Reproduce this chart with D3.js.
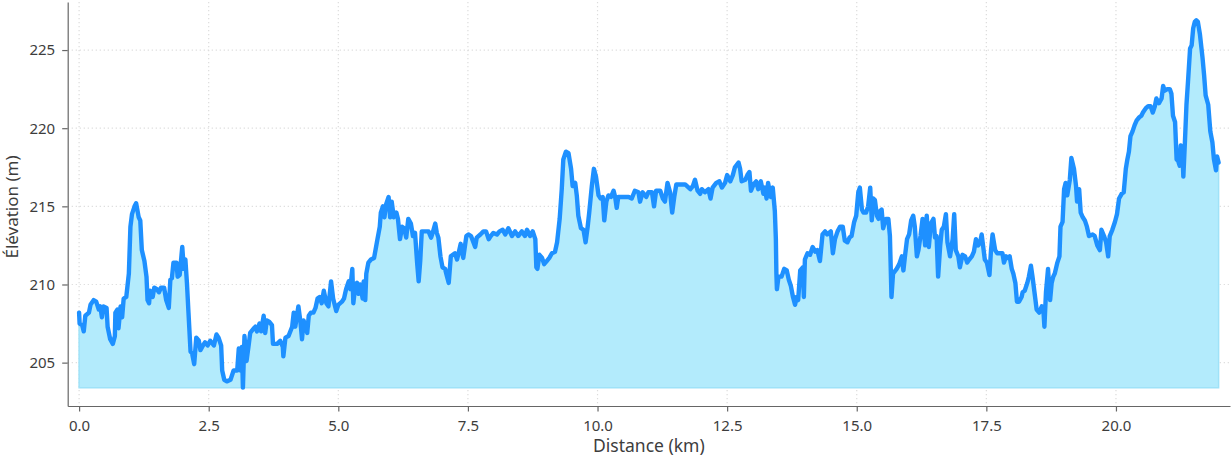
<!DOCTYPE html>
<html>
<head>
<meta charset="utf-8">
<script src="https://cdn.jsdelivr.net/npm/d3@7"></script>
<style>
  html, body { margin: 0; padding: 0; background: #fff; }
  svg { display: block; }
  text { font-family: "Noto Sans", "DejaVu Sans", sans-serif; }
</style>
</head>
<body>
<div id="chart"></div>
<script>
// elevation profile
const distanceKm = [
  0.00,0.01,0.06,0.09,0.12,0.19,0.22,0.28,0.33,0.38,0.41,0.44,0.47,0.53,0.55,0.60,0.65,0.69,0.70,0.74,
  0.76,0.80,0.83,0.86,0.91,0.96,0.99,1.02,1.07,1.10,1.15,1.18,1.21,1.26,1.30,1.32,1.35,1.37,1.42,1.45,
  1.50,1.54,1.58,1.64,1.68,1.73,1.76,1.79,1.82,1.88,1.90,1.94,1.99,2.02,2.05,2.08,2.11,2.15,2.18,2.22,
  2.26,2.31,2.34,2.39,2.43,2.48,2.53,2.60,2.65,2.69,2.74,2.76,2.80,2.85,2.92,2.98,3.05,3.08,3.11,3.14,
  3.16,3.19,3.23,3.27,3.30,3.37,3.40,3.43,3.48,3.51,3.56,3.59,3.62,3.67,3.72,3.74,3.82,3.88,3.93,3.94,
  3.98,4.04,4.11,4.14,4.17,4.23,4.27,4.30,4.33,4.40,4.43,4.47,4.52,4.56,4.60,4.64,4.68,4.72,4.77,4.81,
  4.86,4.90,4.96,5.00,5.07,5.11,5.15,5.20,5.23,5.27,5.29,5.33,5.36,5.39,5.42,5.47,5.49,5.52,5.54,5.58,
  5.63,5.69,5.75,5.80,5.82,5.86,5.89,5.92,5.97,6.00,6.03,6.07,6.12,6.15,6.19,6.23,6.27,6.31,6.35,6.40,
  6.44,6.48,6.52,6.55,6.58,6.61,6.68,6.74,6.79,6.82,6.87,6.90,6.93,6.97,7.01,7.06,7.09,7.13,7.17,7.25,
  7.29,7.32,7.36,7.41,7.47,7.51,7.56,7.64,7.67,7.74,7.80,7.85,7.90,7.94,7.99,8.06,8.11,8.17,8.22,8.28,
  8.35,8.41,8.47,8.54,8.60,8.64,8.70,8.75,8.80,8.82,8.84,8.88,8.93,8.97,9.02,9.07,9.12,9.18,9.22,9.27,
  9.31,9.34,9.39,9.44,9.49,9.52,9.57,9.60,9.63,9.68,9.73,9.77,9.81,9.84,9.89,9.93,9.97,10.02,10.06,10.10,
  10.13,10.17,10.21,10.26,10.31,10.34,10.37,10.40,10.50,10.60,10.66,10.72,10.79,10.82,10.87,10.94,10.98,11.05,11.09,11.13,
  11.21,11.26,11.30,11.35,11.40,11.44,11.48,11.52,11.59,11.69,11.79,11.84,11.88,11.93,11.98,12.01,12.07,12.14,12.18,12.22,
  12.29,12.35,12.40,12.46,12.50,12.56,12.61,12.65,12.72,12.75,12.78,12.85,12.89,12.93,12.96,13.01,13.06,13.10,13.15,13.20,
  13.23,13.26,13.29,13.34,13.38,13.42,13.44,13.45,13.46,13.49,13.55,13.60,13.65,13.69,13.73,13.77,13.81,13.84,13.87,13.91,
  13.96,13.98,14.00,14.05,14.10,14.15,14.20,14.24,14.29,14.34,14.39,14.43,14.50,14.54,14.58,14.63,14.68,14.73,14.77,14.82,
  14.86,14.90,14.95,14.99,15.03,15.06,15.10,15.13,15.18,15.22,15.26,15.29,15.32,15.35,15.39,15.42,15.45,15.48,15.51,15.56,
  15.61,15.64,15.66,15.67,15.70,15.77,15.82,15.87,15.90,15.93,15.97,16.01,16.05,16.09,16.12,16.16,16.19,16.23,16.27,16.32,
  16.35,16.39,16.43,16.48,16.51,16.54,16.57,16.61,16.64,16.68,16.72,16.75,16.80,16.85,16.88,16.91,16.96,16.99,17.04,17.09,
  17.13,17.17,17.22,17.26,17.30,17.34,17.38,17.41,17.44,17.47,17.51,17.56,17.59,17.62,17.67,17.71,17.76,17.81,17.84,17.88,
  17.92,17.95,17.99,18.02,18.06,18.09,18.13,18.18,18.20,18.24,18.29,18.32,18.36,18.39,18.44,18.47,18.52,18.57,18.60,18.62,
  18.65,18.69,18.73,18.76,18.79,18.82,18.87,18.91,18.93,18.97,19.00,19.03,19.06,19.11,19.14,19.19,19.23,19.25,19.29,19.32,
  19.36,19.40,19.44,19.48,19.55,19.59,19.64,19.69,19.72,19.77,19.81,19.85,19.88,19.93,19.98,20.02,20.06,20.11,20.15,20.19,
  20.22,20.25,20.28,20.32,20.36,20.40,20.45,20.49,20.52,20.58,20.62,20.67,20.71,20.75,20.78,20.83,20.88,20.91,20.94,20.99,
  21.04,21.07,21.10,21.14,21.17,21.20,21.23,21.25,21.28,21.30,21.33,21.36,21.39,21.43,21.46,21.49,21.52,21.55,21.58,21.62,
  21.67,21.70,21.73,21.78,21.82,21.86,21.89,21.93,21.95,21.98
];
const elevationM = [
  208.2,207.5,207.4,207.0,208.0,208.2,208.7,209.0,208.9,208.4,208.6,207.9,208.6,208.5,207.3,206.5,206.2,206.7,208.2,208.4,
  207.2,208.6,207.9,209.1,209.2,210.7,213.7,214.5,215.0,215.2,214.3,214.1,212.2,211.5,210.5,209.0,208.8,209.6,209.2,209.8,
  209.7,209.5,209.8,209.8,209.0,208.5,210.3,210.4,211.4,211.4,210.5,210.6,212.4,211.0,211.6,210.1,208.2,205.7,205.6,204.9,
  206.6,206.4,205.8,206.1,206.3,206.1,206.4,206.1,206.8,206.6,206.1,204.5,203.9,203.8,203.9,204.5,204.5,205.9,204.5,206.0,
  203.4,206.7,205.1,206.1,206.9,207.2,207.3,207.0,207.5,207.0,208.0,206.9,207.7,207.6,207.4,206.2,206.2,206.4,206.0,205.4,
  206.6,206.7,207.3,208.2,207.3,208.6,207.6,206.5,207.7,206.9,208.0,208.2,208.2,208.5,209.1,209.2,208.8,209.6,208.8,208.6,
  210.2,209.1,208.3,208.7,208.9,209.1,209.7,210.2,209.7,211.0,208.8,210.0,210.1,209.4,210.0,209.1,210.2,209.0,210.7,211.4,
  211.6,211.7,212.8,213.7,214.6,215.0,214.3,215.1,215.6,214.3,215.3,214.3,214.6,214.2,212.9,213.7,213.6,213.0,214.2,213.9,
  213.1,213.3,211.4,210.2,211.5,213.4,213.4,213.4,213.0,213.3,213.9,213.3,213.0,211.8,211.1,211.0,210.6,210.1,211.8,212.0,
  211.6,212.0,212.6,211.7,213.1,213.2,213.1,212.4,213.0,213.2,213.4,213.4,212.9,213.1,213.3,213.2,213.4,213.5,213.2,213.6,
  213.1,213.4,213.1,213.4,213.1,213.5,213.1,213.4,212.9,211.1,211.0,211.9,211.7,211.3,211.5,211.7,212.0,212.1,212.7,214.2,
  216.1,218.0,218.5,218.4,217.4,216.3,216.5,215.7,214.4,213.6,213.5,212.7,213.7,214.6,216.3,217.4,216.9,215.7,215.5,215.6,
  214.1,215.3,215.7,215.6,216.0,215.6,214.9,215.6,215.6,215.6,215.5,216.0,215.9,215.3,215.9,215.6,215.9,215.9,215.0,216.0,
  216.0,215.5,215.3,216.5,215.9,214.6,215.6,216.4,216.4,216.4,216.1,216.3,216.7,216.0,215.8,216.1,215.9,216.1,215.5,216.2,
  216.5,216.6,216.2,216.5,217.0,216.6,217.0,217.5,217.8,217.4,216.6,216.7,217.0,217.2,216.0,216.4,216.6,216.1,216.6,215.8,
  216.2,215.5,216.5,215.6,216.2,214.7,212.9,210.7,209.7,210.5,210.5,211.0,210.9,210.3,209.9,209.2,208.7,209.2,209.0,210.9,
  211.1,209.2,211.6,212.0,211.9,212.4,212.1,212.2,211.5,213.2,213.4,213.2,213.4,212.0,212.9,213.4,213.7,213.7,212.8,212.7,
  213.0,213.1,214.0,214.4,215.9,216.2,214.8,214.6,214.6,215.0,216.2,214.1,215.5,215.4,214.4,214.2,214.7,214.8,213.6,214.2,
  214.2,213.1,210.5,209.2,210.7,211.0,211.3,211.8,210.9,211.8,212.9,213.2,214.1,214.4,213.7,211.8,212.2,213.1,214.2,212.5,
  214.4,212.4,213.9,214.2,213.0,213.1,210.5,212.5,213.5,213.7,214.5,212.7,211.8,212.9,214.5,212.2,211.8,211.1,211.9,211.8,
  211.4,211.6,211.8,212.1,212.9,212.5,212.7,213.2,212.4,211.6,211.4,210.6,212.2,213.2,212.2,212.0,212.0,212.0,211.4,211.8,
  211.7,211.8,211.0,210.7,210.1,208.9,208.9,209.2,209.5,209.6,210.1,210.5,211.2,210.5,209.2,208.4,208.2,208.6,208.4,207.3,
  209.5,211.0,209.0,210.1,210.5,210.7,211.4,211.8,213.7,214.0,216.1,216.5,215.7,216.7,218.1,217.4,216.3,215.3,216.1,214.6,
  214.3,214.1,213.7,213.1,213.2,213.1,212.5,212.2,213.5,213.1,212.7,211.8,213.1,213.5,214.0,214.5,215.5,215.8,215.9,217.4,
  218.0,218.5,219.5,219.8,220.2,220.5,220.7,220.8,221.0,221.3,221.4,221.4,221.0,221.4,221.9,221.6,221.9,222.7,222.4,222.5,
  222.5,222.2,220.8,220.4,218.0,217.9,217.6,218.9,218.7,216.9,219.1,221.5,223.0,225.1,225.3,226.4,226.8,226.9,226.8,226.0,
  224.5,223.4,222.1,221.5,219.8,219.1,218.0,217.3,218.2,217.8
];
const xTickValues = [0, 2.5, 5, 7.5, 10, 12.5, 15, 17.5, 20];
const yTickValues = [205, 210, 215, 220, 225];
const xTitle = "Distance (km)";
const yTitle = "Élévation (m)";

const W = 1232, H = 460;
const plot = { left: 67.7, right: 1230, top: 2, bottom: 406 };

let points = distanceKm.map((d, i) => ({ d: d, e: elevationM[i] }));

let svg = d3.select("#chart").append("svg")
  .attr("width", W)
  .attr("height", H);

// matplotlib-like margins: 1% on x, 5% on y
let xExt = d3.extent(distanceKm);
let xPad = (xExt[1] - xExt[0]) * 0.01;
let yExt = d3.extent(elevationM);
let yPad = (yExt[1] - yExt[0]) * 0.05;

let x = d3.scaleLinear()
  .domain([xExt[0] - xPad, xExt[1] + xPad])
  .range([plot.left, plot.right]);
let y = d3.scaleLinear()
  .domain([yExt[0] - yPad, yExt[1] + yPad])
  .range([plot.bottom, plot.top]);

// dotted grid
let grid = svg.append("g")
  .attr("stroke", "#dcdcdc")
  .attr("stroke-width", 1.2)
  .attr("stroke-dasharray", "1.2,2.8");
grid.selectAll("line.gx").data(xTickValues).enter().append("line")
  .attr("x1", d => x(d)).attr("x2", d => x(d))
  .attr("y1", plot.top).attr("y2", plot.bottom);
grid.selectAll("line.gy").data(yTickValues).enter().append("line")
  .attr("x1", plot.left).attr("x2", plot.right)
  .attr("y1", d => y(d)).attr("y2", d => y(d));

// filled area from the lowest point up to the profile
let base = yExt[0];
let area = d3.area()
  .x(p => x(p.d))
  .y0(y(base))
  .y1(p => y(p.e));
svg.append("path")
  .datum(points)
  .attr("d", area)
  .attr("fill", "#b3ebfc")
  .attr("stroke", "#9fe2f8")
  .attr("stroke-width", 1.5);

let line = d3.line()
  .x(p => x(p.d))
  .y(p => y(p.e));
svg.append("path")
  .datum(points)
  .attr("d", line)
  .attr("fill", "none")
  .attr("stroke", "#1e90ff")
  .attr("stroke-width", 4.4)
  .attr("stroke-linejoin", "round")
  .attr("stroke-linecap", "round");

// axes
let xAxis = svg.append("g")
  .attr("transform", `translate(0,${plot.bottom})`)
  .call(d3.axisBottom(x).tickValues(xTickValues).tickFormat(d3.format(".1f"))
    .tickSize(5.5).tickSizeOuter(0).tickPadding(8.5));
let yAxis = svg.append("g")
  .attr("transform", `translate(${plot.left},0)`)
  .call(d3.axisLeft(y).tickValues(yTickValues).tickFormat(d3.format("d"))
    .tickSize(5.5).tickSizeOuter(0).tickPadding(7));

[xAxis, yAxis].forEach(a => {
  a.select(".domain").attr("stroke", "#666").attr("stroke-width", 1.2);
  a.selectAll(".tick line").attr("stroke", "#666").attr("stroke-width", 1.2);
  a.selectAll(".tick text")
    .attr("fill", "#3d3d3d")
    .style("font-family", "'Noto Sans', sans-serif")
    .style("font-size", "15px");
});

svg.append("text")
  .attr("x", (plot.left + plot.right) / 2)
  .attr("y", 452)
  .attr("text-anchor", "middle")
  .attr("fill", "#3d3d3d")
  .style("font-size", "17.5px")
  .text(xTitle);

svg.append("text")
  .attr("transform", `translate(17.5,${(plot.top + plot.bottom) / 2 + 3}) rotate(-90)`)
  .attr("text-anchor", "middle")
  .attr("fill", "#3d3d3d")
  .style("font-size", "17px")
  .text(yTitle);
</script>
</body>
</html>
